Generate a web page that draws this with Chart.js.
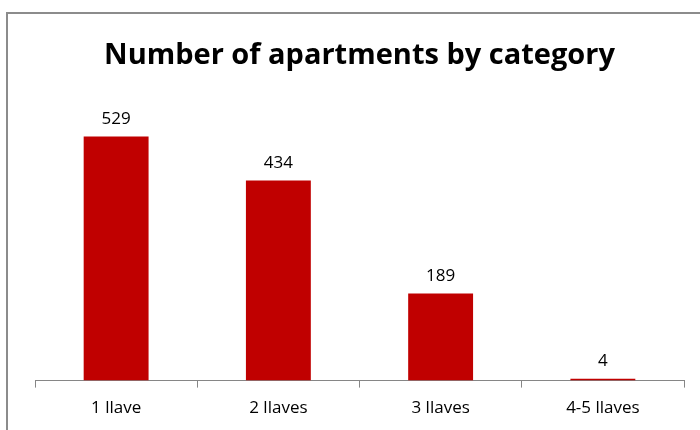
<!DOCTYPE html>
<html>
<head>
<meta charset="utf-8">
<script src="https://cdn.jsdelivr.net/npm/chart.js@4/dist/chart.umd.min.js"></script>
<style>
  html, body { margin: 0; padding: 0; background: #fff; }
  #wrap { position: absolute; left: 0; top: 0; width: 700px; height: 430px; }
  #frame { position: absolute; left: 6px; top: 12px; width: 700px; height: 430px;
           border-left: 2px solid #8c8c8c; border-top: 2px solid #8c8c8c; pointer-events: none; }
</style>
</head>
<body>
<div id="wrap"><canvas id="chart"></canvas></div>
<div id="frame"></div>
<script>
const categories = ["1 llave", "2 llaves", "3 llaves", "4-5 llaves"];
const apartments = [529, 434, 189, 4];
const yMax = 600;

// simple value labels above bars
const barLabels = {
  id: "barLabels",
  afterDatasetsDraw(chart) {
    const ctx = chart.ctx;
    const meta = chart.getDatasetMeta(0);
    ctx.save();
    ctx.font = "17px 'Open Sans'";
    ctx.fillStyle = "#000";
    ctx.textAlign = "center";
    ctx.textBaseline = "bottom";
    meta.data.forEach((bar, i) => {
      ctx.fillText(String(apartments[i]), bar.x, bar.y - 9);
    });
    ctx.restore();
  }
};

new Chart(document.getElementById("chart"), {
  type: "bar",
  data: {
    labels: categories,
    datasets: [{
      label: "Apartments",
      data: apartments,
      backgroundColor: "#c00000",
      barPercentage: 0.4,
      categoryPercentage: 1.0
    }]
  },
  options: {
    responsive: true,
    maintainAspectRatio: false,
    animation: false,
    layout: { padding: { left: 35, right: 16, bottom: 2 } },
    plugins: {
      legend: { display: false },
      tooltip: { enabled: false },
      title: {
        display: true,
        text: "Number of apartments by category",
        color: "#000",
        font: { family: "'Open Sans'", size: 29, weight: "bold" },
        padding: { top: 38, bottom: 31 }
      }
    },
    scales: {
      x: {
        border: { display: true, color: "#868686", width: 1 },
        grid: { display: true, drawOnChartArea: false, color: "#868686", tickLength: 7, offset: true },
        ticks: { color: "#000", font: { family: "'Open Sans'", size: 17 }, padding: 10 }
      },
      y: {
        display: false,
        min: 0,
        max: yMax
      }
    }
  },
  plugins: [barLabels]
});
</script>
</body>
</html>
